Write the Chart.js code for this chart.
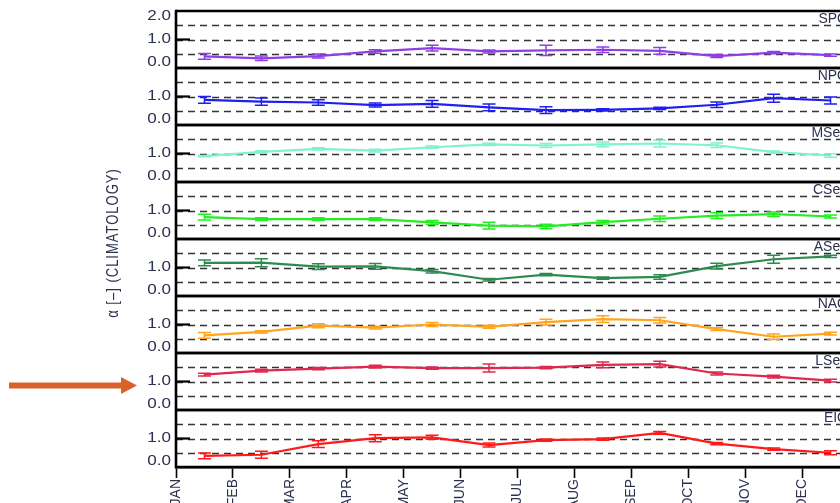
<!DOCTYPE html>
<html>
<head>
<meta charset="utf-8">
<script src="https://cdn.jsdelivr.net/npm/chart.js@4.4.1/dist/chart.umd.min.js"></script>
<style>
  html, body { margin: 0; padding: 0; background: #fff; overflow: hidden; }
  #wrap { position: relative; width: 880px; height: 503px; }
</style>
</head>
<body>
<div id="wrap"><canvas id="c" width="880" height="503"></canvas></div>
<script>
// Month labels on the shared time axis (ticks sit on month boundaries)
const months = ['JAN', 'FEB', 'MAR', 'APR', 'MAY', 'JUN', 'JUL', 'AUG', 'SEP', 'OCT', 'NOV', 'DEC'];

// Regions, one panel each, top to bottom
const regions = ['SPO', 'NPO', 'MSea', 'CSea', 'ASea', 'NAO', 'LSea', 'EIO'];
const regionColors = ['#8f3de6', '#1f1ff0', '#7ff2d2', '#22ee22', '#2e8b4f', '#ffa41c', '#e0284f', '#ff1a1a'];

// Monthly climatology of alpha per region, with the half-width of its error bar
const alphaSPO  = [0.41, 0.34, 0.42, 0.58, 0.70, 0.58, 0.62, 0.64, 0.60, 0.42, 0.54, 0.45];
const errSPO    = [0.10, 0.08, 0.07, 0.06, 0.10, 0.05, 0.18, 0.10, 0.12, 0.05, 0.04, 0.04];
const alphaNPO  = [0.88, 0.82, 0.79, 0.70, 0.74, 0.62, 0.52, 0.53, 0.58, 0.71, 0.94, 0.86];
const errNPO    = [0.12, 0.13, 0.10, 0.07, 0.12, 0.12, 0.12, 0.04, 0.04, 0.10, 0.14, 0.12];
const alphaMSea = [0.91, 1.06, 1.16, 1.10, 1.22, 1.32, 1.28, 1.32, 1.35, 1.29, 1.05, 0.93];
const errMSea   = [0.02, 0.04, 0.04, 0.05, 0.04, 0.04, 0.07, 0.08, 0.12, 0.08, 0.04, 0.06];
const alphaCSea = [0.77, 0.70, 0.70, 0.70, 0.58, 0.47, 0.44, 0.59, 0.71, 0.82, 0.87, 0.79];
const errCSea   = [0.10, 0.05, 0.05, 0.05, 0.07, 0.12, 0.08, 0.06, 0.10, 0.10, 0.08, 0.05];
const alphaASea = [1.16, 1.17, 1.03, 1.04, 0.87, 0.57, 0.75, 0.63, 0.67, 1.05, 1.29, 1.39];
const errASea   = [0.10, 0.14, 0.10, 0.10, 0.06, 0.04, 0.04, 0.04, 0.08, 0.10, 0.14, 0.04];
const alphaNAO  = [0.62, 0.74, 0.96, 0.89, 1.00, 0.92, 1.08, 1.19, 1.15, 0.84, 0.57, 0.68];
const errNAO    = [0.10, 0.04, 0.07, 0.05, 0.07, 0.05, 0.10, 0.12, 0.10, 0.05, 0.10, 0.05];
const alphaLSea = [1.24, 1.38, 1.45, 1.52, 1.47, 1.47, 1.49, 1.58, 1.61, 1.28, 1.17, 1.03];
const errLSea   = [0.05, 0.05, 0.04, 0.05, 0.04, 0.14, 0.04, 0.10, 0.10, 0.05, 0.05, 0.05];
const alphaEIO  = [0.39, 0.43, 0.80, 1.01, 1.04, 0.77, 0.94, 0.98, 1.20, 0.82, 0.63, 0.50];
const errEIO    = [0.10, 0.12, 0.12, 0.12, 0.07, 0.07, 0.04, 0.04, 0.05, 0.04, 0.04, 0.07];

const alphaSeries = [alphaSPO, alphaNPO, alphaMSea, alphaCSea, alphaASea, alphaNAO, alphaLSea, alphaEIO];
const errSeries   = [errSPO, errNPO, errMSea, errCSea, errASea, errNAO, errLSea, errEIO];

// Y tick labels of every panel; the top panel also shows its upper bound
const yTickValues = [0, 1];
const yTopTickValues = [0, 1, 2];
const yGuideValues = [0.5, 1, 1.5];
const yAxisTitle = 'α [–] (CLIMATOLOGY)';

const TEXT_COLOR = '#2b3150';
const SANS = '"Liberation Sans", Arial, Helvetica, sans-serif';

function wideText(ctx, text, x, y, align, baseline, sx) {
  ctx.save();
  ctx.translate(x, y);
  ctx.scale(sx, 1);
  ctx.textAlign = align;
  ctx.textBaseline = baseline;
  ctx.fillText(text, 0, 0);
  ctx.restore();
}

// Panel frames, dashed guides, inner ticks, y labels and region names
const panelDecor = {
  id: 'panelDecor',
  beforeDatasetsDraw(chart) {
    const { ctx, chartArea } = chart;
    ctx.save();
    regions.forEach((name, i) => {
      const s = chart.scales['y' + i];
      // dashed guides
      ctx.strokeStyle = '#333';
      ctx.lineWidth = 1.4;
      ctx.setLineDash([7, 5]);
      yGuideValues.forEach(v => {
        const py = Math.round(s.getPixelForValue(v)) + 0.5;
        ctx.beginPath();
        ctx.moveTo(chartArea.left, py);
        ctx.lineTo(chartArea.right, py);
        ctx.stroke();
      });
      ctx.setLineDash([]);
      // inner tick at 1.0
      ctx.strokeStyle = '#000';
      ctx.lineWidth = 2.2;
      const p1 = s.getPixelForValue(1);
      ctx.beginPath();
      ctx.moveTo(chartArea.left, p1);
      ctx.lineTo(chartArea.left + 14, p1);
      ctx.stroke();
      // tick labels
      ctx.fillStyle = TEXT_COLOR;
      ctx.font = '14px ' + SANS;
      const vals = i === 0 ? yTopTickValues : yTickValues;
      vals.forEach(v => {
        let py = s.getPixelForValue(v);
        if (v === 0) py -= 6;
        if (v === 2) py += 5;
        wideText(ctx, v.toFixed(1), chartArea.left - 5, py, 'right', 'middle', 1.22);
      });
      // region name
      ctx.font = '14px ' + SANS;
      wideText(ctx, name, 848, s.getPixelForValue(2) + 8, 'right', 'middle', 1);
    });
    ctx.restore();
  },
  afterDatasetsDraw(chart) {
    const { ctx, chartArea } = chart;
    const x = chart.scales.x;
    ctx.save();
    // error bars
    regions.forEach((name, i) => {
      const s = chart.scales['y' + i];
      ctx.strokeStyle = regionColors[i];
      ctx.lineWidth = 1.5;
      alphaSeries[i].forEach((v, k) => {
        const px = x.getPixelForValue(k + 0.5);
        const lo = s.getPixelForValue(v - errSeries[i][k]);
        const hi = s.getPixelForValue(v + errSeries[i][k]);
        ctx.beginPath();
        ctx.moveTo(px, lo); ctx.lineTo(px, hi);
        ctx.moveTo(px - 6.5, lo); ctx.lineTo(px + 6.5, lo);
        ctx.moveTo(px - 6.5, hi); ctx.lineTo(px + 6.5, hi);
        ctx.stroke();
      });
    });
    // panel frames
    ctx.strokeStyle = '#000';
    ctx.lineWidth = 2.6;
    regions.forEach((name, i) => {
      const s = chart.scales['y' + i];
      [0, 2].forEach(v => {
        const py = s.getPixelForValue(v);
        ctx.beginPath();
        ctx.moveTo(chartArea.left, py);
        ctx.lineTo(chartArea.right, py);
        ctx.stroke();
      });
    });
    ctx.beginPath();
    ctx.moveTo(chartArea.left, chartArea.top - 1.3);
    ctx.lineTo(chartArea.left, chartArea.bottom + 1.3);
    ctx.stroke();
    ctx.restore();
  },
  afterDraw(chart) {
    const { ctx, chartArea } = chart;
    ctx.save();
    // shared y-axis title
    ctx.fillStyle = TEXT_COLOR;
    ctx.font = '13px ' + SANS;
    ctx.letterSpacing = '1px';
    ctx.translate(114, (chartArea.top + chartArea.bottom) / 2 + 4);
    ctx.rotate(-Math.PI / 2);
    ctx.scale(1, 1.22);
    ctx.textAlign = 'center';
    ctx.textBaseline = 'middle';
    ctx.fillText(yAxisTitle, 0, 0);
    ctx.restore();

    // pointer arrow at the LSea panel's 1.0 label
    const yL = chart.scales.y6.getPixelForValue(1) + 4;
    ctx.save();
    ctx.fillStyle = '#d9622b';
    ctx.fillRect(9, yL - 3, 114, 6);
    ctx.beginPath();
    ctx.moveTo(121, yL - 8.5);
    ctx.lineTo(137, yL);
    ctx.lineTo(121, yL + 8.5);
    ctx.closePath();
    ctx.fill();
    ctx.restore();
  }
};

// Stacked left axes are laid out bottom-up in creation order, so the
// lowest panel's scale is registered first.
const scales = {
  x: {
    type: 'linear',
    position: 'bottom',
    min: 0,
    max: 12,
    grid: { display: true, drawOnChartArea: false, drawTicks: true, tickLength: 11, tickColor: '#000', tickWidth: 1.6 },
    border: { display: true, color: '#000', width: 2.6 },
    ticks: {
      stepSize: 1,
      autoSkip: false,
      minRotation: 90,
      maxRotation: 90,
      padding: 1,
      color: TEXT_COLOR,
      font: { family: SANS, size: 14 },
      callback: v => months[v] !== undefined ? months[v] : ''
    },
    afterFit(s) { s.height = 36; }
  }
};
for (let i = regions.length - 1; i >= 0; i--) {
  scales['y' + i] = {
    type: 'linear',
    position: 'left',
    stack: 'panels',
    stackWeight: 1,
    min: 0,
    max: 2,
    grid: { display: false, drawTicks: false },
    border: { display: false },
    ticks: { display: false },
    afterFit(s) { s.width = 176; }
  };
}

new Chart(document.getElementById('c'), {
  type: 'line',
  data: {
    datasets: regions.map((name, i) => ({
      label: name,
      data: alphaSeries[i].map((v, k) => ({ x: k + 0.5, y: v })),
      xAxisID: 'x',
      yAxisID: 'y' + i,
      borderColor: regionColors[i],
      backgroundColor: regionColors[i],
      borderWidth: 2.2,
      pointRadius: 0,
      tension: 0,
      fill: false
    }))
  },
  options: {
    responsive: false,
    animation: false,
    layout: { padding: { left: 0, top: 11, right: 21, bottom: 0 } },
    scales,
    plugins: { legend: { display: false }, tooltip: { enabled: false }, title: { display: false } }
  },
  plugins: [panelDecor]
});
</script>
</body>
</html>
